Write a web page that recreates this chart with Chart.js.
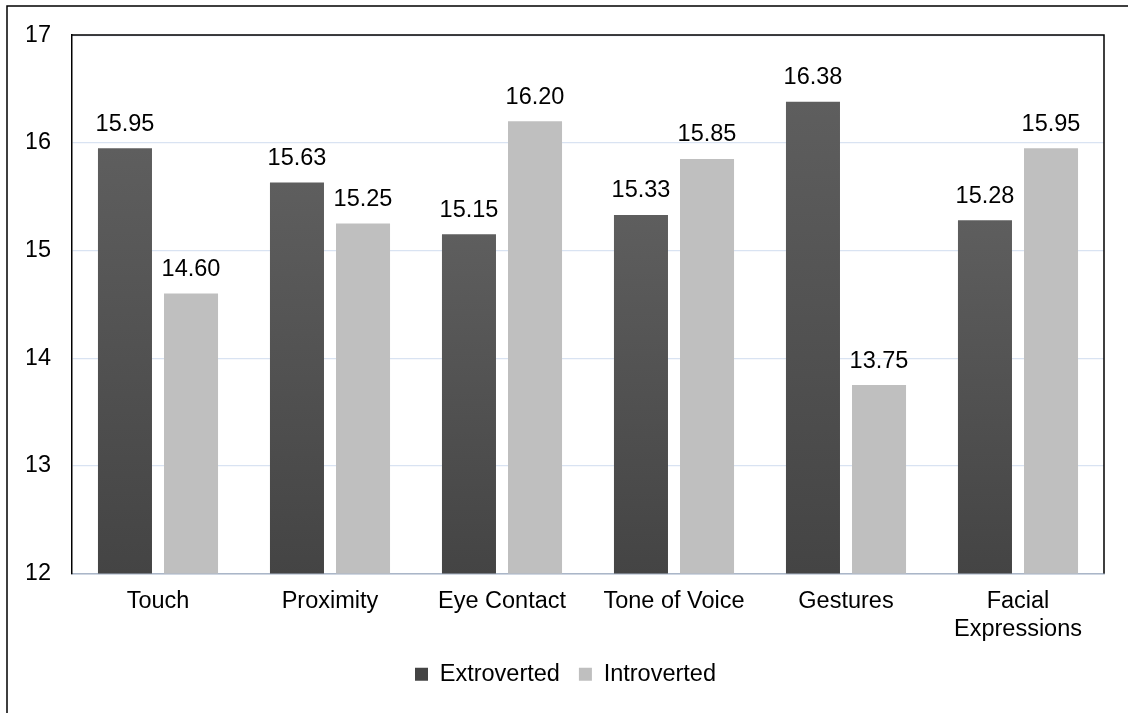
<!DOCTYPE html>
<html>
<head>
<meta charset="utf-8">
<script src="https://cdn.jsdelivr.net/npm/chart.js@4.4.0/dist/chart.umd.min.js"></script>
<style>
  html, body { margin: 0; padding: 0; background: #fff; }
  #wrap { position: relative; width: 1128px; height: 713px; }
</style>
</head>
<body>
<div id="wrap"><canvas id="chart"></canvas></div>
<script>
const categories = ['Touch', 'Proximity', 'Eye Contact', 'Tone of Voice', 'Gestures', ['Facial', 'Expressions']];
const extroverted = [15.95, 15.63, 15.15, 15.33, 16.38, 15.28];
const introverted = [14.60, 15.25, 16.20, 15.85, 13.75, 15.95];
const yMin = 12;
const yMax = 17;
const yStep = 1;

Chart.defaults.font.family = '"Liberation Sans", Arial, sans-serif';
Chart.defaults.font.size = 23.5;
Chart.defaults.color = '#000';

// dark bars fade from mid grey at the top to a darker grey at the axis
function darkGradient(c) {
  const chart = c.chart;
  const area = chart.chartArea;
  if (!area || c.raw === undefined) return '#4a4a4a';
  const top = chart.scales.y.getPixelForValue(c.raw);
  const g = chart.ctx.createLinearGradient(0, top, 0, area.bottom);
  g.addColorStop(0, '#5e5e5e');
  g.addColorStop(1, '#444444');
  return g;
}

const valueLabels = {
  id: 'valueLabels',
  afterDatasetsDraw(chart) {
    const ctx = chart.ctx;
    ctx.save();
    ctx.font = '23.5px "Liberation Sans", Arial, sans-serif';
    ctx.fillStyle = '#000';
    ctx.textAlign = 'center';
    ctx.textBaseline = 'middle';
    chart.data.datasets.forEach((ds, i) => {
      chart.getDatasetMeta(i).data.forEach((bar, j) => {
        ctx.fillText(ds.data[j].toFixed(2), bar.x, bar.y - 24);
      });
    });
    ctx.restore();
  }
};

const frames = {
  id: 'frames',
  beforeDraw(chart) {
    const ctx = chart.ctx;
    ctx.save();
    ctx.strokeStyle = '#000';
    ctx.lineWidth = 1.5;
    ctx.beginPath();
    ctx.moveTo(7, chart.height);
    ctx.lineTo(7, 6);
    ctx.lineTo(chart.width, 6);
    ctx.stroke();
    ctx.restore();
  },
  afterDraw(chart) {
    const a = chart.chartArea;
    const ctx = chart.ctx;
    ctx.save();
    ctx.strokeStyle = '#000';
    ctx.lineWidth = 1.5;
    ctx.beginPath();
    ctx.moveTo(a.left, a.top);
    ctx.lineTo(a.right, a.top);
    ctx.lineTo(a.right, a.bottom);
    ctx.stroke();
    ctx.restore();
  }
};

new Chart(document.getElementById('chart'), {
  type: 'bar',
  data: {
    labels: categories,
    datasets: [
      {
        label: 'Extroverted',
        data: extroverted,
        backgroundColor: darkGradient,
        categoryPercentage: 0.768,
        barPercentage: 0.818,
      },
      {
        label: 'Introverted',
        data: introverted,
        backgroundColor: '#bfbfbf',
        categoryPercentage: 0.768,
        barPercentage: 0.818,
      },
    ],
  },
  options: {
    responsive: true,
    maintainAspectRatio: false,
    animation: false,
    layout: { padding: { left: 27, right: 24, top: 35, bottom: 17 } },
    plugins: {
      legend: {
        position: 'bottom',
        labels: { boxWidth: 13, boxHeight: 13, padding: 19, color: '#000' },
      },
      tooltip: { enabled: false },
    },
    scales: {
      x: {
        grid: { display: false, drawTicks: false },
        border: { display: true, color: '#aab6c8', width: 1.5 },
        ticks: { padding: 14, maxRotation: 0, autoSkip: false },
        afterFit: s => { s.height = 70; },
      },
      y: {
        min: yMin,
        max: yMax,
        grid: { color: '#d9e3f2', lineWidth: 1.2, drawTicks: false },
        border: { display: true, color: '#000', width: 1.5 },
        ticks: { stepSize: yStep, padding: 21 },
        afterFit: s => { s.width = 45; },
      },
    },
  },
  plugins: [valueLabels, frames],
});
</script>
</body>
</html>
